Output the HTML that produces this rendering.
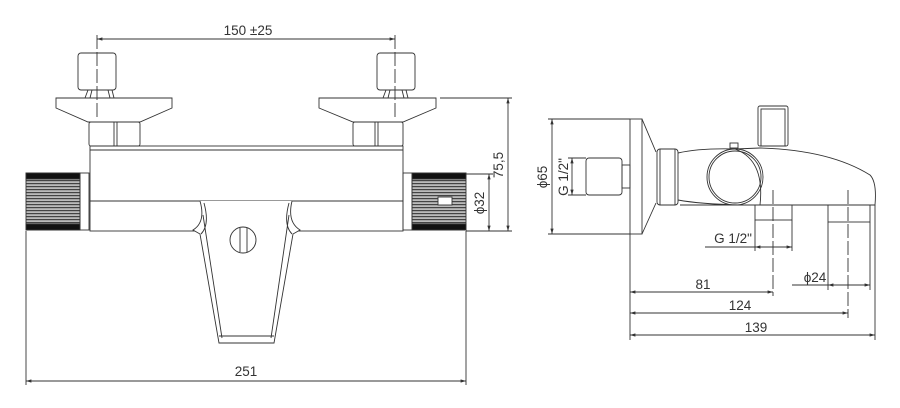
<!DOCTYPE html>
<html><head><meta charset="utf-8"><style>
html,body{margin:0;padding:0;background:#fff}
svg{display:block}
text{font-family:"Liberation Sans","DejaVu Sans",sans-serif;font-size:13.5px;fill:#333}
</style></head><body>
<svg width="900" height="408" viewBox="0 0 900 408" xmlns="http://www.w3.org/2000/svg">
<defs>
<pattern id="kn" width="4" height="3" patternUnits="userSpaceOnUse">
<rect width="4" height="3" fill="#bbb"/><rect width="4" height="1.2" fill="#444"/>
</pattern>
<marker id="ar" viewBox="0 0 10 10" refX="10" refY="5" markerWidth="8" markerHeight="6" orient="auto-start-reverse"><path d="M0,2 L10,5 L0,8 z" fill="#333"/></marker>
</defs>
<g fill="none" stroke="#333" stroke-width="0.9">
<!-- 150 dim -->
<line x1="97" y1="39" x2="395" y2="39" marker-start="url(#ar)" marker-end="url(#ar)"/>
<line x1="97" y1="35" x2="97" y2="118" stroke-dasharray="14,3"/>
<line x1="395" y1="35" x2="395" y2="118" stroke-dasharray="14,3"/>
<!-- left handle -->
<rect x="78" y="53" width="38" height="37" rx="3"/>
<path d="M88,90 L85,98 M92,90 L90,98 M108,90 L110,98 M112,90 L114,98"/>
<path d="M56,98 H172 V108 L140,122 H88 L56,108 Z"/>
<rect x="89" y="122" width="51" height="24" rx="2"/>
<line x1="114" y1="122" x2="114" y2="146"/><line x1="117" y1="122" x2="117" y2="146"/>
<!-- right handle -->
<rect x="377" y="53" width="38" height="37" rx="3"/>
<path d="M386,90 L383,98 M390,90 L388,98 M402,90 L404,98 M406,90 L408,98"/>
<path d="M319,98 H436 V108 L403,122 H353 L319,108 Z"/>
<rect x="353" y="122" width="50" height="24" rx="2"/>
<line x1="375" y1="122" x2="375" y2="146"/><line x1="378" y1="122" x2="378" y2="146"/>
<!-- body -->
<rect x="90" y="146" width="313" height="85"/>
<line x1="90" y1="150" x2="403" y2="150"/>
<line x1="90" y1="201" x2="403" y2="201"/>
<!-- knurls -->
<rect x="26" y="173" width="54" height="57" fill="url(#kn)"/>
<rect x="26" y="173" width="54" height="6" fill="#111"/><rect x="26" y="224" width="54" height="6" fill="#111"/>
<rect x="80" y="173" width="9" height="57"/>
<rect x="412" y="173" width="54" height="57" fill="url(#kn)"/>
<rect x="412" y="173" width="54" height="6" fill="#111"/><rect x="412" y="224" width="54" height="6" fill="#111"/>
<rect x="403" y="173" width="9" height="57"/>
<rect x="438" y="197" width="14" height="8" fill="#fff"/>
<!-- spout -->
<path d="M200,201 Q206,222 193,230 L200,234 L219,343 H274 L293,234 L300,230 Q287,222 292,201" fill="#fff"/>
<path d="M204,203 Q210,225 201,234 M289,203 Q283,225 292,234 M203,215 L222,338 M289,215 L271,338"/>
<line x1="219" y1="336" x2="274" y2="336"/>
<circle cx="243" cy="240" r="13"/>
<line x1="240" y1="228" x2="240" y2="252"/><line x1="247" y1="228" x2="247" y2="252"/>
<!-- 251 dim -->
<line x1="26" y1="231" x2="26" y2="385"/><line x1="466" y1="231" x2="466" y2="385"/>
<line x1="26" y1="381" x2="466" y2="381" marker-start="url(#ar)" marker-end="url(#ar)"/>
<!-- 75.5 -->
<line x1="440" y1="98" x2="512" y2="98"/><line x1="466" y1="231" x2="512" y2="231"/>
<line x1="508" y1="98" x2="508" y2="231" marker-start="url(#ar)" marker-end="url(#ar)"/>
<line x1="466" y1="174" x2="493" y2="174"/>
<line x1="489" y1="174" x2="489" y2="231" marker-start="url(#ar)" marker-end="url(#ar)"/>

<!-- right view -->
<rect x="630" y="119" width="12" height="115"/>
<path d="M642,119 L656,152 M642,234 L656,203"/>
<rect x="657" y="149" width="21" height="56" rx="3"/>
<path d="M660,149 V205 M675,149 V205"/>
<rect x="586" y="158" width="36" height="37" rx="3"/>
<rect x="622" y="165" width="8" height="23"/>
<path d="M678,153 Q700,148 735,149 L760,148 Q830,150 870,175 Q877,182 875,205 L680,205 M678,200 Q700,204 740,205"/>
<path d="M735,149 Q765,160 760,205"/>
<circle cx="735" cy="177" r="28"/><circle cx="735" cy="177" r="26"/>
<rect x="730" y="143" width="8" height="5"/>
<rect x="758" y="106" width="30" height="40" rx="2"/><rect x="761" y="109" width="24" height="37"/>
<rect x="755" y="205" width="37" height="15"/>
<rect x="828" y="205" width="42" height="17"/>
<line x1="773" y1="190" x2="773" y2="296" stroke-dasharray="14,3"/>
<line x1="848" y1="190" x2="848" y2="318" stroke-dasharray="14,3"/>
<!-- dims -->
<line x1="548" y1="119" x2="630" y2="119"/><line x1="548" y1="234" x2="630" y2="234"/>
<line x1="552" y1="119" x2="552" y2="234" marker-start="url(#ar)" marker-end="url(#ar)"/>
<line x1="568" y1="158" x2="586" y2="158"/><line x1="568" y1="195" x2="586" y2="195"/>
<line x1="572" y1="158" x2="572" y2="195" marker-start="url(#ar)" marker-end="url(#ar)"/>
<line x1="630" y1="234" x2="630" y2="340"/>
<line x1="755" y1="220" x2="755" y2="251"/><line x1="792" y1="220" x2="792" y2="251"/>
<line x1="705" y1="247" x2="755" y2="247"/>
<line x1="755" y1="247" x2="792" y2="247" marker-start="url(#ar)" marker-end="url(#ar)"/>
<line x1="828" y1="222" x2="828" y2="290"/><line x1="870" y1="222" x2="870" y2="290"/>
<line x1="792" y1="285" x2="828" y2="285"/>
<line x1="828" y1="285" x2="870" y2="285" marker-start="url(#ar)" marker-end="url(#ar)"/>
<line x1="875" y1="205" x2="875" y2="340"/>
<line x1="630" y1="292" x2="773" y2="292" marker-start="url(#ar)" marker-end="url(#ar)"/>
<line x1="630" y1="313" x2="848" y2="313" marker-start="url(#ar)" marker-end="url(#ar)"/>
<line x1="630" y1="335" x2="875" y2="335" marker-start="url(#ar)" marker-end="url(#ar)"/>
</g>
<text x="248" y="35" text-anchor="middle">150 ±25</text>
<text x="246" y="376" text-anchor="middle">251</text>
<text transform="translate(503,165) rotate(-90)" text-anchor="middle">75,5</text>
<text transform="translate(484,203) rotate(-90)" text-anchor="middle">ϕ32</text>
<text transform="translate(547,177) rotate(-90)" text-anchor="middle">ϕ65</text>
<text transform="translate(568,177) rotate(-90)" text-anchor="middle">G 1/2"</text>
<text x="733" y="243" text-anchor="middle">G 1/2"</text>
<text x="815" y="282" text-anchor="middle">ϕ24</text>
<text x="703" y="289" text-anchor="middle">81</text>
<text x="740" y="310" text-anchor="middle">124</text>
<text x="756" y="332" text-anchor="middle">139</text>
</svg>
</body></html>
